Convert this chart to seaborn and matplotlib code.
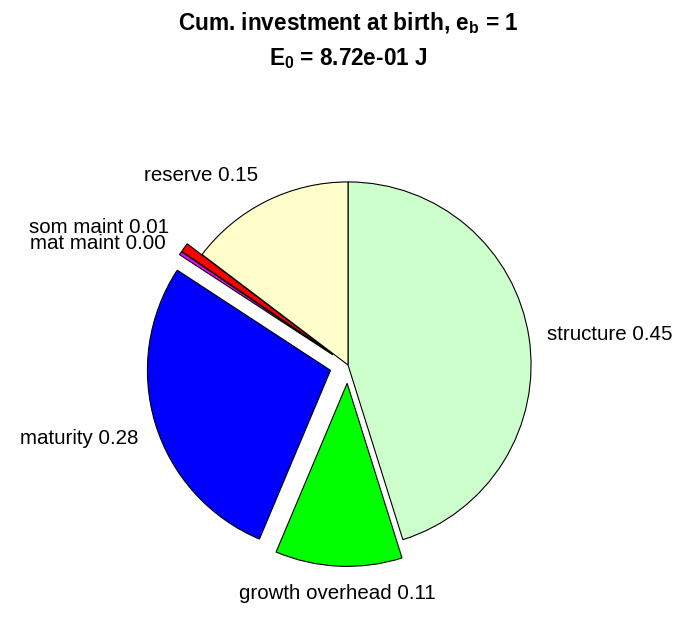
"""Cumulative investment at birth - pie chart."""

import numpy as np
import matplotlib
matplotlib.use('Agg')
import matplotlib.pyplot as plt
import seaborn as sns

# data
parts = ['structure', 'growth overhead', 'maturity', 'mat maint', 'som maint', 'reserve']
fractions = [0.452, 0.112, 0.279, 0.003, 0.008, 0.147]
explode = [0, 0.1, 0.1, 0.1, 0.1, 0]
colors = ['#ccffcc', '#00ff00', '#0000ff', '#ff00ff', '#ff0000', '#ffffcc']

sns.set_theme(style='white')
plt.rcParams['font.family'] = ['Liberation Sans', 'DejaVu Sans']
plt.rcParams['text.color'] = 'black'
plt.rcParams['mathtext.fontset'] = 'custom'
plt.rcParams['mathtext.rm'] = 'Liberation Sans:bold'
plt.rcParams['mathtext.bf'] = 'Liberation Sans:bold'
plt.rcParams['mathtext.it'] = 'Liberation Sans:bold'

fig = plt.figure(figsize=(6.96, 6.18), dpi=100)
ax = fig.add_axes([110 / 696, 15 / 618, 476 / 696, 476 / 618])

labels = [f'{p} {v:.2f}' for p, v in zip(parts, fractions)]

wedges, texts = ax.pie(
    fractions,
    labels=labels,
    explode=explode,
    colors=colors,
    startangle=90,
    counterclock=False,
    labeldistance=1.1,
    wedgeprops={'edgecolor': 'black', 'linewidth': 0.8},
    textprops={'fontsize': 14.8, 'color': 'black'},
)

# MATLAB-like label alignment: centred near bottom, pushed out vertically
for w, t in zip(wedges, texts):
    ang = np.deg2rad((w.theta1 + w.theta2) / 2)
    c, s = np.cos(ang), np.sin(ang)
    if abs(c) < 0.3:
        t.set_ha('center')
    if s > 0.57:
        t.set_va('bottom')
    elif s < -0.25:
        t.set_va('top')

ax.set_xlim(-1.3, 1.3)
ax.set_ylim(-1.3, 1.3)
ax.set_aspect('equal')
ax.axis('off')

fig.text(0.5, 1 - 30 / 618, r'Cum. investment at birth, $e_b$ = 1',
         ha='center', va='baseline', fontsize=16.3, fontweight='bold')
fig.text(0.5, 1 - 65 / 618, r'$E_0$ = 8.72e-01 J',
         ha='center', va='baseline', fontsize=16.3, fontweight='bold')

plt.savefig('out.png', dpi=100)
